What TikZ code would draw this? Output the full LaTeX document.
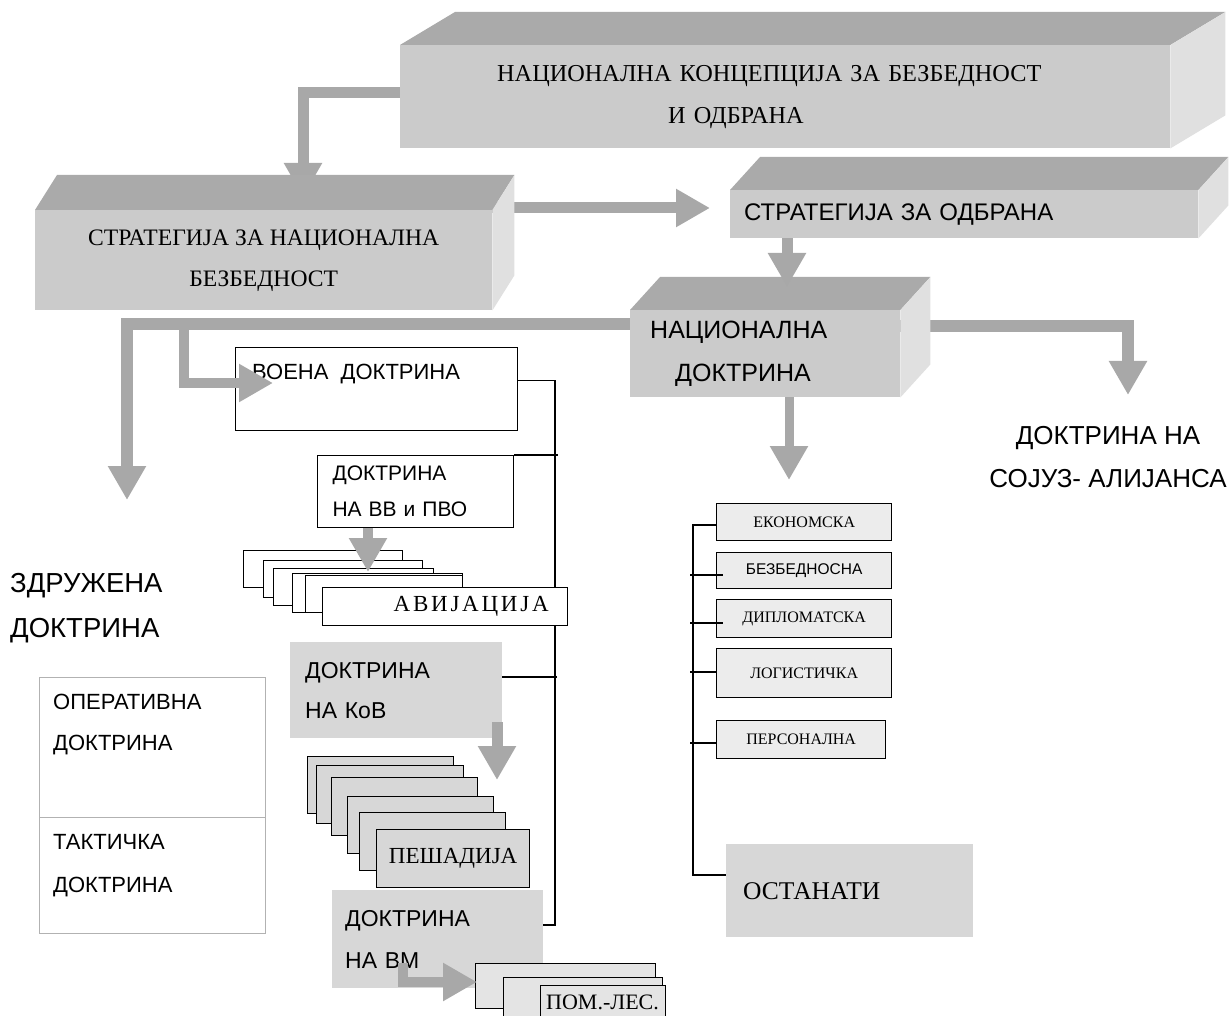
\documentclass[tikz,border=0pt]{standalone}
\usepackage{fontspec}
\setmainfont{Liberation Serif}
\setsansfont{Liberation Sans}
\usetikzlibrary{arrows.meta,calc}
\definecolor{topf}{RGB}{170,170,170}
\definecolor{frontf}{RGB}{203,203,203}
\definecolor{sidef}{RGB}{224,224,224}
\definecolor{arrg}{RGB}{168,168,168}
\definecolor{flatg}{RGB}{215,215,215}
\definecolor{listg}{RGB}{236,236,236}
\definecolor{pomg}{RGB}{228,228,228}
\newcommand\fsz[2]{\fontsize{#1pt}{#2pt}\selectfont}
\newcommand\drawfaces[3]{%
  \fill[topf] (#1.north west) -- ++(#2,-#3) -- ($(#1.north east)+(#2,-#3)$) -- (#1.north east) -- cycle;
  \fill[sidef] (#1.north east) -- ++(#2,-#3) -- ($(#1.south east)+(#2,-#3)$) -- (#1.south east) -- cycle;}
\pgfdeclarelayer{paper}
\pgfdeclarelayer{under}
\pgfsetlayers{paper,under,main}
\tikzset{
  front/.style={fill=frontf, inner sep=0pt, anchor=north west, align=center},
  fat/.style={draw=arrg, line width=11pt, -{Triangle[width=36pt,length=34pt]}},
  stackw/.style={draw=black, line width=1.3pt, fill=white, inner sep=0pt, anchor=north west},
  stackg/.style={draw=black, line width=1.3pt, fill=flatg, inner sep=0pt, anchor=north west},
  stackp/.style={draw=black, line width=1.3pt, fill=pomg, inner sep=0pt, anchor=north west},
  flat/.style={fill=flatg, inner sep=0pt, anchor=north west, align=left},
  lbox/.style={draw=black, line width=1.4pt, fill=listg, inner sep=0pt, anchor=north west, minimum width=175pt},
  wbox/.style={draw=black, line width=1.1pt, fill=white, inner sep=0pt, anchor=north west, align=left},
  cell/.style={draw=gray!60, line width=0.8pt, inner sep=0pt, anchor=north west, minimum width=226pt},
  brk/.style={draw=black, line width=1.5pt},
  ssf/.style={font=\sffamily\fsz{#1}{#1}},
  srf/.style={font=\rmfamily\fsz{#1}{#1}}
}
\begin{document}
\begin{tikzpicture}[x=1pt,y=-1pt]
\useasboundingbox (0,0) rectangle (1232,1016);
\clip (0,0) rectangle (1232,1016);
\begin{pgfonlayer}{paper}
\fill[white] (0,0) rectangle (1232,1016);
\end{pgfonlayer}

% ---------- 3D boxes ----------
\node[front, minimum width=770pt, minimum height=103pt, text width=576pt, align=left, font=\rmfamily\fsz{24.3}{42}] (top) at (400,45)
  {НАЦИОНАЛНА КОНЦЕПЦИЈА ЗА БЕЗБЕДНОСТ\\\hspace*{171pt}И ОДБРАНА};
\drawfaces{top}{55}{33}

\node[front, minimum width=457pt, minimum height=100pt, font=\rmfamily\fsz{23.6}{41}] (snb) at (35,210)
  {СТРАТЕГИЈА ЗА НАЦИОНАЛНА\\БЕЗБЕДНОСТ};
\drawfaces{snb}{22}{35}

\node[front, minimum width=468pt, minimum height=48pt, text width=440pt, align=left, font=\sffamily\fsz{24}{24}] (sd) at (730,190)
  {СТРАТЕГИЈА ЗА ОДБРАНА};
\drawfaces{sd}{30}{33}

\node[front, minimum width=270pt, minimum height=87pt, text width=270pt, align=left, font=\sffamily\fsz{25}{43}] (nd) at (630,310)
  {\hspace*{20pt}НАЦИОНАЛНА\\\hspace*{45pt}ДОКТРИНА};
\drawfaces{nd}{30}{33}

% ---------- arrows under boxes ----------
\coordinate (a1) at (303,197);
\coordinate (a2) at (710,208);
\coordinate (tl) at (127,324);
\coordinate (a4) at (127,500);
\coordinate (tr) at (1128,326);
\coordinate (a5) at (1128,395);
\begin{pgfonlayer}{under}
\draw[fat] ([yshift=4.5pt]top.west) -| (a1);
\draw[fat] (snb.east |- a2) -- (a2);
\draw[fat, line width=12pt] (nd.center |- tl) -| (a4);
\draw[fat, line width=12pt] (nd.center |- tr) -| (a5);
\end{pgfonlayer}

\coordinate (a3) at (787,287);
\draw[fat] (sd.south -| a3) -- (a3);
\coordinate (a7) at (789,480);
\draw[fat, line width=9pt] (nd.south -| a7) -- (a7);

% ---------- military doctrine branch ----------
\node[wbox, line width=1.3pt, minimum width=282pt, minimum height=83pt] (voena) at (235,347) {};
\node[ssf=22, anchor=north west, inner sep=0pt] (voenat) at (252,364) {ВОЕНА~~ДОКТРИНА};
\coordinate (b6) at (184,324);
\coordinate (a6) at (273,383);
\draw[fat, line width=10pt] (b6) |- (a6);

\node[wbox, minimum width=196pt, minimum height=72pt, text width=166pt, font=\sffamily\fsz{21}{36}] (vv) at (317,455)
  {ДОКТРИНА\\НА ВВ и ПВО};

% bracket line
\coordinate (bb) at (555,925);
\draw[brk] ([yshift=8.5pt]voena.east) -| (bb) -- (bb -| 543,0);
\draw[brk] (vv.north east) -- ++(44,0);

% aviation stack
\node[stackw, minimum width=159pt, minimum height=37pt] (av1) at (243,550) {};
\node[stackw, minimum width=159pt, minimum height=37pt] (av2) at (263,560) {};
\node[stackw, minimum width=160pt, minimum height=37pt] (av3) at (273,568) {};
\node[stackw, minimum width=170pt, minimum height=39pt] (av4) at (292,573) {};
\node[stackw, minimum width=157pt, minimum height=37pt] (av5) at (305,575) {};
\node[stackw, minimum width=245pt, minimum height=38pt, text width=207pt, align=right,
      font=\rmfamily\fsz{23}{23}\addfontfeature{LetterSpace=12}] (av6) at (322,587) {АВИЈАЦИЈА};
\coordinate (a8) at (368,572);
\draw[fat, line width=10pt] (vv.south -| a8) -- (a8);

% land forces
\node[flat, minimum width=212pt, minimum height=96pt, text width=182pt, font=\sffamily\fsz{23}{40}] (kov) at (290,642)
  {ДОКТРИНА\\НА КоВ};
\draw[brk] ([yshift=13pt]kov.east) -- ++(55,0);
\coordinate (s9) at (497,722);
\coordinate (a9) at (497,780);
\draw[fat] (s9) -- (a9);

\node[stackg, minimum width=146pt, minimum height=57pt] (p1) at (307,756) {};
\node[stackg, minimum width=147pt, minimum height=58pt] (p2) at (316,765) {};
\node[stackg, minimum width=146pt, minimum height=58pt] (p3) at (331,777) {};
\node[stackg, minimum width=146pt, minimum height=57pt] (p4) at (347,796) {};
\node[stackg, minimum width=146pt, minimum height=58pt] (p5) at (359,812) {};
\node[stackg, minimum width=153pt, minimum height=58pt, srf=23] (p6) at (376,829) {ПЕШАДИЈА};

% navy
\node[flat, minimum width=211pt, minimum height=98pt, text width=185pt, font=\sffamily\fsz{23}{42}] (vm) at (332,890)
  {ДОКТРИНА\\НА ВМ};
\node[stackp, minimum width=180pt, minimum height=45pt] (pm1) at (475,963) {};
\node[stackp, minimum width=159pt, minimum height=50pt] (pm2) at (503,977) {};
\node[stackp, minimum width=125pt, minimum height=50pt] (pm3) at (540,985) {};
\node[srf=22, anchor=base west, inner sep=0pt] (pmt) at (546,1009) {ПОМ.-ЛЕС.};
\coordinate (s10) at (403,963);
\coordinate (a10) at (477,982);
\draw[fat, line width=10pt] (s10) |- (a10);

% ---------- joint doctrine ----------
\node[font=\sffamily\fsz{27.5}{45}, align=left, anchor=north west, inner sep=0pt] (zd) at (10,573)
  {ЗДРУЖЕНА\\ДОКТРИНА};
\node[cell, minimum height=140pt] (op) at (39,677) {};
\node[cell, minimum height=116pt] (tac) at (39,817) {};
\node[font=\sffamily\fsz{22}{41}, align=left, anchor=north west, inner sep=0pt] (opt) at (53,694)
  {ОПЕРАТИВНА\\ДОКТРИНА};
\node[font=\sffamily\fsz{22}{43}, align=left, anchor=north west, inner sep=0pt] (tact) at (53,834)
  {ТАКТИЧКА\\ДОКТРИНА};

% ---------- alliance ----------
\node[font=\sffamily\fsz{26}{43}, align=center, anchor=north, inner sep=0pt] (al) at (1108,426)
  {ДОКТРИНА НА\\СОЈУЗ- АЛИЈАНСА};

% ---------- national doctrine list ----------
\node[lbox, minimum height=37pt, srf=16] (eco) at (716,503) {ЕКОНОМСКА};
\node[lbox, minimum height=36pt, ssf=15.5] (bez) at (716,552) {БЕЗБЕДНОСНА};
\node[lbox, minimum height=38pt, srf=16] (dip) at (716,599) {ДИПЛОМАТСКА};
\node[lbox, minimum height=49pt, srf=16] (log) at (716,648) {ЛОГИСТИЧКА};
\node[lbox, minimum width=169pt, minimum height=38pt, srf=16] (per) at (716,720) {ПЕРСОНАЛНА};
\node[flat, minimum width=247pt, minimum height=93pt, text width=213pt, srf=25.5] (ost) at (726,844) {ОСТАНАТИ};

\coordinate (lt) at (693,525);
\coordinate (lb) at (693,875);
\draw[brk] (eco.west |- lt) -- (lt) -- (lb) -- (ost.west |- lb);
\draw[brk] (690,575) -- (723,575);
\draw[brk] (690,623) -- (723,623);
\draw[brk] (690,672) -- (716,672);
\draw[brk] (690,743) -- (716,743);
\end{tikzpicture}
\end{document}
